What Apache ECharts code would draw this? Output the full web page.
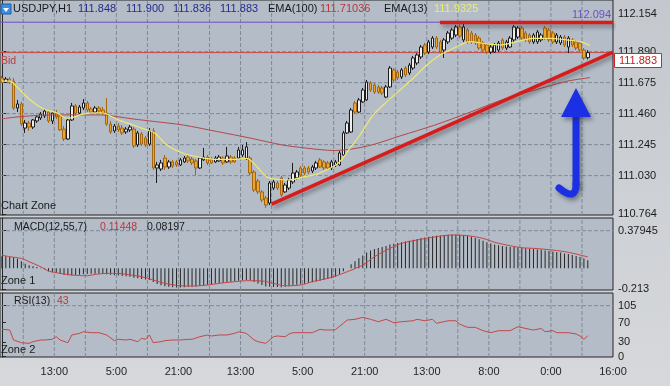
<!DOCTYPE html>
<html><head><meta charset="utf-8">
<script src="https://cdn.jsdelivr.net/npm/echarts@6/dist/echarts.min.js"></script>
<style>html,body{margin:0;padding:0;background:#c9cdd2}#c{width:670px;height:386px}</style>
</head><body><div id="c"></div>
<script>
// ---- data ----
// candles: [open, close, low, high]
const ohlc = [
[111.707,111.679,111.672,111.721],[111.679,111.700,111.672,111.714],[111.700,111.679,111.665,111.714],[111.686,111.499,111.485,111.707],
[111.499,111.527,111.471,111.555],[111.527,111.388,111.374,111.541],[111.360,111.395,111.326,111.416],[111.395,111.367,111.340,111.409],
[111.367,111.416,111.353,111.423],[111.409,111.437,111.395,111.451],[111.430,111.457,111.416,111.471],[111.444,111.478,111.430,111.492],
[111.471,111.409,111.395,111.485],[111.409,111.464,111.388,111.478],[111.464,111.437,111.423,111.485],[111.444,111.347,111.340,111.457],
[111.353,111.284,111.270,111.374],[111.284,111.416,111.277,111.430],[111.416,111.513,111.409,111.534],[111.513,111.464,111.451,111.527],
[111.464,111.506,111.457,111.520],[111.499,111.534,111.485,111.561],[111.534,111.485,111.471,111.548],[111.492,111.471,111.457,111.506],
[111.471,111.499,111.464,111.513],[111.499,111.478,111.464,111.513],[111.485,111.464,111.451,111.506],[111.464,111.388,111.374,111.568],
[111.388,111.333,111.319,111.409],[111.340,111.374,111.326,111.388],[111.374,111.347,111.333,111.395],[111.360,111.326,111.312,111.381],
[111.333,111.353,111.319,111.367],[111.347,111.367,111.333,111.381],[111.353,111.236,111.222,111.367],[111.243,111.326,111.229,111.340],
[111.319,111.249,111.236,111.333],[111.291,111.243,111.229,111.305],[111.249,111.340,111.236,111.360],[111.340,111.083,111.069,111.360],
[111.083,111.104,110.979,111.125],[111.076,111.118,111.062,111.139],[111.152,111.090,111.069,111.173],[111.090,111.125,111.076,111.139],
[111.125,111.097,111.083,111.139],[111.125,111.104,111.090,111.139],[111.104,111.139,111.097,111.152],[111.125,111.152,111.118,111.166],
[111.159,111.132,111.118,111.173],[111.145,111.118,111.104,111.159],[111.132,111.083,111.034,111.145],[111.083,111.152,111.076,111.159],
[111.139,111.159,111.132,111.222],[111.159,111.118,111.104,111.173],[111.145,111.118,111.111,111.159],[111.125,111.152,111.118,111.166],
[111.132,111.159,111.125,111.173],[111.152,111.118,111.104,111.166],[111.125,111.166,111.118,111.229],[111.159,111.125,111.111,111.173],
[111.152,111.125,111.118,111.166],[111.152,111.208,111.145,111.229],[111.173,111.208,111.159,111.243],[111.152,111.229,111.139,111.263],
[111.152,111.048,111.034,111.166],[111.055,110.930,110.917,111.069],[110.993,110.917,110.903,111.007],[110.917,110.861,110.847,110.930],
[110.875,110.826,110.806,110.889],[110.840,110.979,110.826,110.993],[110.944,110.986,110.930,111.000],[110.979,110.944,110.930,110.993],
[111.014,110.896,110.882,111.027],[110.917,110.965,110.910,110.979],[110.944,111.000,110.930,111.014],[110.986,111.048,110.972,111.118],
[111.014,111.055,111.000,111.069],[111.083,111.034,111.021,111.097],[111.083,111.048,111.034,111.097],[111.083,111.055,111.041,111.097],
[111.062,111.090,111.048,111.104],[111.083,111.118,111.069,111.132],[111.139,111.090,111.083,111.152],[111.125,111.083,111.069,111.139],
[111.118,111.083,111.069,111.132],[111.083,111.125,111.069,111.139],[111.104,111.125,111.090,111.139],[111.104,111.187,111.097,111.201],
[111.173,111.326,111.166,111.340],[111.326,111.395,111.319,111.409],[111.333,111.485,111.326,111.499],[111.534,111.471,111.457,111.548],
[111.471,111.555,111.464,111.568],[111.541,111.624,111.534,111.638],[111.555,111.679,111.548,111.693],[111.672,111.624,111.610,111.686],
[111.659,111.610,111.596,111.672],[111.645,111.610,111.596,111.659],[111.638,111.603,111.589,111.652],[111.575,111.645,111.568,111.659],
[111.645,111.776,111.638,111.790],[111.763,111.693,111.679,111.776],[111.749,111.707,111.693,111.763],[111.714,111.763,111.700,111.776],
[111.776,111.728,111.714,111.790],[111.742,111.797,111.728,111.811],[111.776,111.846,111.763,111.860],[111.811,111.867,111.797,111.880],
[111.853,111.922,111.839,111.936],[111.936,111.880,111.867,111.950],[111.887,111.957,111.873,111.971],[111.922,111.984,111.908,111.998],
[111.984,111.922,111.908,111.998],[111.957,111.887,111.873,111.971],[111.901,111.971,111.846,111.984],[111.957,112.019,111.943,112.033],
[111.984,112.040,111.971,112.054],[112.005,112.061,111.991,112.075],[112.061,111.998,111.984,112.094],[111.971,112.061,111.957,112.082],
[112.040,111.957,111.943,112.054],[112.019,111.957,111.943,112.033],[112.005,111.950,111.936,112.019],[111.984,111.915,111.901,111.998],
[111.950,111.901,111.887,111.964],[111.936,111.887,111.873,111.950],[111.887,111.922,111.873,111.936],[111.887,111.936,111.880,111.950],
[111.901,111.950,111.887,111.964],[111.971,111.915,111.901,111.984],[111.915,111.957,111.901,111.971],[111.922,111.984,111.915,111.998],
[111.971,112.061,111.957,112.075],[111.991,112.054,111.978,112.068],[112.054,111.984,111.971,112.068],[112.019,111.971,111.957,112.033],
[112.005,111.957,111.943,112.019],[111.957,112.005,111.943,112.019],[111.957,112.026,111.943,112.040],[111.971,112.005,111.957,112.019],
[112.054,111.984,111.971,112.068],[112.040,111.971,111.957,112.054],[112.019,111.957,111.943,112.033],[111.957,112.005,111.943,112.019],
[111.950,111.991,111.936,112.005],[111.991,111.936,111.922,112.005],[111.922,111.984,111.880,111.998],[111.971,111.936,111.922,111.984],
[111.957,111.915,111.901,111.971],[111.950,111.901,111.887,111.964],[111.901,111.846,111.832,111.915],[111.848,111.883,111.836,111.900]
];
// EMA lines: [bar index, price]
const ema100 = [[0,111.423],[3.9,111.437],[12.4,111.451],[25.3,111.451],[33.8,111.423],[39.4,111.405],[46.7,111.381],[55.4,111.336],[63.9,111.291],[72.4,111.242],[78.1,111.222],[85.8,111.204],[94.3,111.236],[102.6,111.305],[111.6,111.381],[120.1,111.464],[128.9,111.555],[137.4,111.624],[145.9,111.686],[151.6,111.710]];
const ema13 = [[0,111.686],[2.1,111.686],[3.8,111.647],[6.4,111.577],[9,111.520],[11.5,111.485],[14.1,111.466],[16.7,111.428],[18.3,111.434],[20.9,111.457],[25.3,111.466],[27,111.457],[29.6,111.421],[33.8,111.381],[37.3,111.347],[39.4,111.326],[42.5,111.242],[46.7,111.185],[51.1,111.157],[55.4,111.143],[59.6,111.143],[63.1,111.150],[65.7,111.092],[68.2,111.023],[70.8,111.005],[74.2,111.000],[78.1,111.023],[81.1,111.039],[85.3,111.092],[87.1,111.127],[89.7,111.220],[92.3,111.312],[95.7,111.451],[99.2,111.543],[102.6,111.624],[106,111.705],[109.5,111.797],[112.9,111.867],[116,111.908],[118.1,111.936],[120.6,111.959],[124,111.948],[128.4,111.936],[132.7,111.959],[136.9,111.982],[141.3,111.982],[145.6,111.971],[149,111.959],[151.6,111.9325]];
const macdHist = [0.120,0.120,0.118,0.110,0.095,0.070,0.045,0.030,0.020,0.012,0.005,-0.010,-0.030,-0.040,-0.045,-0.055,-0.065,-0.070,-0.070,-0.068,
-0.065,-0.060,-0.058,-0.056,-0.055,-0.055,-0.055,-0.060,-0.066,-0.070,-0.074,-0.078,-0.082,-0.085,-0.095,-0.100,-0.108,-0.115,-0.118,-0.140,
-0.160,-0.172,-0.182,-0.188,-0.192,-0.195,-0.195,-0.192,-0.190,-0.186,-0.184,-0.178,-0.172,-0.166,-0.160,-0.155,-0.150,-0.146,-0.140,-0.136,
-0.132,-0.126,-0.122,-0.118,-0.125,-0.140,-0.155,-0.170,-0.185,-0.188,-0.190,-0.190,-0.192,-0.188,-0.182,-0.175,-0.168,-0.162,-0.156,-0.150,
-0.142,-0.134,-0.126,-0.118,-0.110,-0.100,-0.085,-0.060,-0.030,0.000,0.040,0.070,0.100,0.130,0.160,0.180,0.195,0.205,0.215,0.225,
0.240,0.248,0.255,0.262,0.270,0.278,0.288,0.296,0.305,0.312,0.318,0.324,0.328,0.332,0.335,0.338,0.340,0.340,0.338,0.334,
0.328,0.318,0.305,0.292,0.278,0.264,0.250,0.240,0.232,0.226,0.220,0.216,0.214,0.210,0.206,0.202,0.198,0.194,0.190,0.186,
0.180,0.175,0.170,0.164,0.158,0.150,0.143,0.134,0.124,0.113,0.098,0.08197];
const macdSignal = [[0,0.133],[2,0.116],[5,0.100],[7,0.066],[10,0.015],[12,-0.028],[15,-0.052],[18,-0.069],[22,-0.076],[24,-0.062],[27,-0.052],[30,-0.052],[32,-0.062],[36,-0.086],[39,-0.119],[42,-0.153],[46,-0.177],[49,-0.180],[53,-0.170],[56,-0.153],[60,-0.136],[63,-0.126],[67,-0.129],[70,-0.153],[73,-0.177],[77,-0.170],[80,-0.136],[84,-0.102],[86,-0.079],[89,-0.035],[93,0.032],[96,0.116],[100,0.201],[103,0.252],[107,0.285],[112,0.319],[116,0.336],[120,0.329],[124,0.302],[127,0.262],[131,0.228],[134,0.207],[137,0.201],[142,0.184],[146,0.161],[151,0.11448]];
const rsi = [[0,56.4],[2,55],[3,34.4],[5,28.8],[7,27.5],[8,30.9],[10,34.4],[11,34.4],[13,35.8],[14,41.2],[15,34.4],[17,28.8],[18,44.7],[20,48.1],[21,51.4],[23,49.4],[25,49.4],[27,44.7],[29,33],[30,35.8],[32,34.4],[33,35.8],[35,30.9],[36,37.8],[37,35.8],[38,44.7],[39,28.8],[41,30.9],[42,33],[44,34.4],[46,34.4],[48,35.8],[49,35.8],[51,41.2],[53,44.7],[54,42.6],[56,44.7],[58,44.7],[60,48.1],[61,51.4],[63,48.1],[65,34.4],[66,30.9],[68,27.5],[70,41.2],[71,42.6],[73,41.2],[74,46.7],[75,49.4],[79,49.4],[80,49.4],[82,56.4],[83,55],[85,55],[86,56],[88,68.7],[89,75.5],[91,76.9],[93,81],[95,77],[97,72],[99,77],[101,70],[103,72],[106,74],[107,77],[109,74],[111,77],[112,68.7],[115,74],[117,74],[118,67],[120,60.4],[122,60.4],[124,53.6],[126,49.4],[128,53.6],[131,53.6],[133,61.7],[136,56.4],[137,55],[139,58],[140,51.4],[142,53.6],[143,49.4],[146,49.4],[148,46.7],[149,42.6],[150,35.8],[151,43]];
const trendLine = [[69.5,110.833],[157.5,111.887]];
const resistance = [[112.9,112.092],[157.5,112.092]];
const periodHigh = 112.094;
const bid = 111.883;
const priceTicks = [110.764,111.030,111.245,111.460,111.675,111.890,112.154];
const priceGrid = [111.030,111.245,111.460,111.675,111.890];
const macdTicks = [-0.213,0.37945];
const macdTickLabels = ['-0.213','0.37945'];
const macdGrid = [0.37945];
const rsiTicks = [0,30,70,105];
const rsiGrid = [105];
const timeTicks = [13.5,29.5,45.5,61.5,77.5,93.5,109.5,125.5,141.5,157.5];
const timeLabels = ['13:00','5:00','21:00','13:00','5:00','21:00','13:00','8:00','0:00','16:00'];
const vGrid = [5.5,13.5,21.5,29.5,37.5,45.5,53.5,61.5,69.5,77.5,85.5,93.5,101.5,109.5,117.5,125.5,133.5,141.5,149.5];
const SLOTS = 158;
const categories = Array.from({length: SLOTS}, (_, i) => String(i));

// ---- chart ----
const chart = echarts.init(document.getElementById('c'), null, {renderer: 'canvas'});
const FONT = 'Liberation Sans';
const gridBase = {left: 0, right: 57, show: true, z: 0, backgroundColor: '#b3bcc7', borderColor: '#262626', borderWidth: 1};
const X_MIN = -0.5, X_MAX = 157.5;
const ranges = [[110.757, 112.248], [-0.220, 0.508], [-0.6, 131.1]];
function catX(g) { return {type: 'category', gridIndex: g, position: 'bottom', data: categories, show: false, boundaryGap: true}; }
function valX(g, labels) {
  return {
    type: 'value', gridIndex: g, position: 'bottom', min: X_MIN, max: X_MAX,
    axisLine: {show: false}, axisTick: {show: false}, splitLine: {show: false},
    axisLabel: labels ? {
      show: true, customValues: timeTicks, color: '#262626', fontSize: 11, fontFamily: FONT, margin: 9,
      formatter: v => { let k = 0, b = 1e9; timeTicks.forEach((t, i) => { if (Math.abs(t - v) < b) { b = Math.abs(t - v); k = i; } }); return timeLabels[k]; }
    } : {show: false}
  };
}
function labY(g, ticks, fmt) {
  return {
    type: 'value', gridIndex: g, position: 'right', min: ranges[g][0], max: ranges[g][1],
    axisLine: {show: true, lineStyle: {color: '#262626'}},
    axisTick: {show: true, length: 4, customValues: ticks, lineStyle: {color: '#262626'}},
    axisLabel: {show: true, customValues: ticks, formatter: fmt, color: '#1c1c1c', fontSize: 11, fontFamily: FONT, margin: 5},
    splitLine: {show: false}
  };
}
// dashed grid lines as plain line series on each pane's axes
function gridSeries(g, hVals) {
  const xi = g * 2 + 1, yi = g, r = ranges[g];
  const style = {color: '#7f8998', width: 1, type: 'dashed'};
  const out = [];
  vGrid.forEach(v => out.push({type: 'line', xAxisIndex: xi, yAxisIndex: yi, data: [[v, r[0]], [v, r[1]]], symbol: 'none', silent: true, z: 2, lineStyle: style}));
  hVals.forEach(v => out.push({type: 'line', xAxisIndex: xi, yAxisIndex: yi, data: [[X_MIN, v], [X_MAX, v]], symbol: 'none', silent: true, z: 2, lineStyle: style}));
  return out;
}
const txt = (text, x, y, fill, size, extra) => ({type: 'text', z: 100, style: Object.assign({text, x, y, fill, font: (size || 11) + 'px "' + FONT + '"', verticalAlign: 'middle'}, extra || {})});
const shadow = {shadowBlur: 4, shadowColor: 'rgba(40,40,40,0.45)', shadowOffsetX: 2, shadowOffsetY: 3};

const series = [].concat(gridSeries(0, priceGrid), gridSeries(1, macdGrid), gridSeries(2, rsiGrid), [
  {type: 'candlestick', xAxisIndex: 0, yAxisIndex: 0, data: ohlc, barWidth: 3, z: 3,
    itemStyle: {color: '#eeeeee', color0: '#eca533', borderColor: '#1c1c1c', borderColor0: '#a4660f', borderWidth: 1}},
  {type: 'line', xAxisIndex: 1, yAxisIndex: 0, data: [[X_MIN, periodHigh], [X_MAX, periodHigh]], symbol: 'none', z: 3, lineStyle: {color: '#6f4fc6', width: 1}},
  {type: 'line', xAxisIndex: 1, yAxisIndex: 0, data: [[X_MIN, bid], [X_MAX, bid]], symbol: 'none', z: 3, lineStyle: {color: '#c84646', width: 1}},
  {type: 'line', xAxisIndex: 1, yAxisIndex: 0, data: ema100, smooth: 0.3, symbol: 'none', z: 4, lineStyle: {color: '#b04a4a', width: 1}},
  {type: 'line', xAxisIndex: 1, yAxisIndex: 0, data: ema13, smooth: 0.3, symbol: 'none', z: 4, lineStyle: {color: '#eeea6c', width: 1.2}},
  {type: 'line', xAxisIndex: 1, yAxisIndex: 0, data: trendLine, symbol: 'none', z: 5, lineStyle: Object.assign({color: '#d81c1c', width: 3.5}, shadow)},
  {type: 'line', xAxisIndex: 1, yAxisIndex: 0, data: resistance, symbol: 'none', z: 5, lineStyle: Object.assign({color: '#d81c1c', width: 3.5}, shadow)},
  {type: 'bar', xAxisIndex: 2, yAxisIndex: 1, data: macdHist, barWidth: 1, z: 3, itemStyle: {color: '#262626'}},
  {type: 'line', xAxisIndex: 3, yAxisIndex: 1, data: macdSignal, smooth: 0.3, symbol: 'none', z: 4, lineStyle: {color: '#c84444', width: 1}},
  {type: 'line', xAxisIndex: 5, yAxisIndex: 2, data: rsi, symbol: 'none', z: 4, lineStyle: {color: '#c44848', width: 1}}
]);

chart.setOption({
  animation: false,
  backgroundColor: new echarts.graphic.LinearGradient(0, 0, 0, 1, [{offset: 0, color: '#c4c8ce'}, {offset: 1, color: '#d6d8db'}]),
  textStyle: {fontFamily: FONT},
  grid: [
    Object.assign({top: 0, height: 215}, gridBase),
    Object.assign({top: 218, height: 72}, gridBase),
    Object.assign({top: 293, height: 64}, gridBase)
  ],
  xAxis: [catX(0), valX(0, false), catX(1), valX(1, false), catX(2), valX(2, true)],
  yAxis: [
    labY(0, priceTicks, v => v.toFixed(3)),
    labY(1, macdTicks, v => { let k = 0, b = 1e9; macdTicks.forEach((t, i) => { if (Math.abs(t - v) < b) { b = Math.abs(t - v); k = i; } }); return macdTickLabels[k]; }),
    labY(2, rsiTicks, v => String(Math.round(v)))
  ],
  series: series,
  graphic: [
    {type: 'rect', z: 100, shape: {x: 1, y: 4, width: 10, height: 10}, style: {fill: '#3a8fe2', stroke: '#1f5fa8', lineWidth: 1}},
    {type: 'polygon', z: 101, shape: {points: [[3, 8], [9, 8], [6, 12]]}, style: {fill: '#ffffff'}},
    txt('USDJPY,H1', 13, 9, '#1a1a1a', 11),
    txt('111.848', 78, 9, '#272b8c', 11),
    txt('111.900', 126, 9, '#272b8c', 11),
    txt('111.836', 173, 9, '#272b8c', 11),
    txt('111.883', 220, 9, '#272b8c', 11),
    txt('EMA(100)', 268, 9, '#1a1a1a', 11),
    txt('111.71036', 320, 9, '#c23434', 11),
    txt('EMA(13)', 384, 9, '#1a1a1a', 11),
    txt('111.9325', 434, 9, '#eeee66', 11),
    txt('112.094', 611, 15, '#6f4fc6', 11, {align: 'right'}),
    txt('Bid', 1, 61, '#c23a3a', 10.5),
    txt('Chart Zone', 1, 206, '#1a1a1a', 11),
    txt('MACD(12,55,7)', 14, 227, '#1a1a1a', 10.5),
    txt('0.11448', 100, 227, '#c23434', 10.5),
    txt('0.08197', 147, 227, '#1a1a1a', 10.5),
    txt('Zone 1', 1, 281, '#1a1a1a', 11),
    txt('RSI(13)', 14, 301, '#1a1a1a', 10.5),
    txt('43', 57, 301, '#c23434', 10.5),
    txt('Zone 2', 1, 350, '#1a1a1a', 11),
    {type: 'rect', z: 100, shape: {x: 614.5, y: 53.5, width: 47, height: 14}, style: {fill: '#ffffff', stroke: '#d02828', lineWidth: 1}},
    txt('111.883', 638, 61, '#c42020', 11, {align: 'center'}),
    {type: 'line', z: 100, shape: {x1: 576, y1: 112, x2: 576, y2: 184}, style: Object.assign({stroke: '#1b2fe4', lineWidth: 7, lineCap: 'round'}, shadow)},
    {type: 'bezierCurve', z: 100, shape: {x1: 576, y1: 184, cpx1: 576, cpy1: 202, x2: 559, y2: 188}, style: Object.assign({stroke: '#1b2fe4', lineWidth: 7, lineCap: 'round', fill: null}, shadow)},
    {type: 'polygon', z: 101, shape: {points: [[576, 88], [561, 117], [591, 117]]}, style: Object.assign({fill: '#1b2fe4'}, shadow)}
  ]
});
</script>
</body></html>
